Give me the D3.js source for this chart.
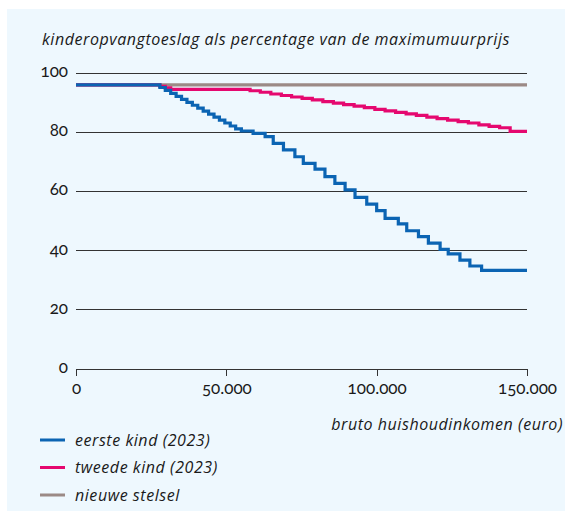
<!DOCTYPE html>
<html lang="nl">
	<head>
		<meta charset="utf-8">
		<title>Kinderopvangtoeslag</title>
		<script type="text/javascript" src="https://cdn.jsdelivr.net/npm/d3@7"></script>
	</head>
	<style>
	body { margin: 0; background: #fff; }
	text { fill: #1a1a1a; }
	.label { font-family: "Open Sans", Lato, sans-serif; font-style: italic; font-size: 16px; letter-spacing: 0.55px; }
	.axis text { font-family: Lato, "Open Sans", sans-serif; font-size: 17px; font-variant-numeric: oldstyle-nums; }
	.axis path, .axis line { fill: none; stroke: #333; shape-rendering: crispEdges; }
	.grid line { stroke: #333; shape-rendering: crispEdges; }
	</style>
	<body>
		<script type="text/javascript">
// bruto huishoudinkomen (euro) waar een nieuwe trede begint, en het percentage
var eersteInkomen = [0, 27900, 29700, 31500, 33300, 35100, 36900, 38700, 40500, 42300, 44100,
	45900, 47700, 49500, 51300, 53100, 55000, 58900, 62900, 65600, 69000, 72800, 75600, 79500,
	82800, 86100, 89500, 92800, 96700, 100000, 102800, 107200, 110000, 113900, 117200, 121100,
	123800, 127700, 131000, 134900, 150000];
var eersteKind = [96, 95.1, 94.1, 93.1, 92.1, 91.1, 90.1, 89.1, 88.1, 87.1, 86.1,
	85.1, 84.1, 83.1, 82.1, 81.1, 80.4, 79.6, 78.5, 76.2, 74.0, 71.7, 69.5, 67.5,
	65.0, 62.7, 60.5, 58.0, 55.7, 53.5, 50.9, 49.0, 46.7, 44.7, 42.5, 40.4,
	38.9, 36.8, 34.8, 33.3, 33.3];

var tweedeInkomen = [0, 27900, 29700, 31500, 57900, 61300, 64800, 68300, 71700, 75200, 78600,
	82100, 85600, 89000, 92500, 95900, 99400, 102800, 106300, 109800, 113200, 116700, 120100,
	123600, 127100, 130500, 134000, 137400, 140900, 144400, 150000];
var tweedeKind = [96, 95.5, 95.0, 94.5, 94.0, 93.5, 92.9, 92.4, 91.9, 91.4, 90.9,
	90.3, 89.8, 89.3, 88.8, 88.3, 87.7, 87.2, 86.7, 86.2, 85.7, 85.1, 84.6,
	84.1, 83.6, 83.1, 82.5, 82.0, 81.5, 80.3, 80.3];

var nieuwInkomen = [0, 150000];
var nieuweStelsel = [96, 96];

var yTicks = [0, 20, 40, 60, 80, 100];
var xTicks = [0, 50000, 100000, 150000];

var reeksen = [
	{naam: "eerste kind (2023)", x: eersteInkomen, y: eersteKind, kleur: "#0b64b3"},
	{naam: "tweede kind (2023)", x: tweedeInkomen, y: tweedeKind, kleur: "#e5086f"},
	{naam: "nieuwe stelsel", x: nieuwInkomen, y: nieuweStelsel, kleur: "#9b8a86"}
];

var svg = d3.select("body").append("svg")
	.attr("width", 565)
	.attr("height", 515);

svg.append("rect")
	.attr("x", 7).attr("y", 9)
	.attr("width", 558).attr("height", 502)
	.style("fill", "#eef8fe");

var x = d3.scaleLinear().domain([0, 150000]).range([76, 527]);
var y = d3.scaleLinear().domain([0, 100]).range([369, 73]);

svg.append("text")
	.attr("class", "label")
	.attr("x", 42).attr("y", 45)
	.text("kinderopvangtoeslag als percentage van de maximumuurprijs");

// rasterlijnen
svg.append("g").attr("class", "grid")
	.selectAll("line")
	.data(yTicks.filter(function(d) { return d > 0; }))
	.enter().append("line")
	.attr("x1", x(0)).attr("x2", x(150000))
	.attr("y1", function(d) { return y(d); })
	.attr("y2", function(d) { return y(d); });

svg.append("g")
	.attr("class", "y axis")
	.attr("transform", "translate(" + x(0) + ",0)")
	.call(d3.axisLeft(y).tickValues(yTicks).tickSize(0).tickPadding(8))
	.call(function(g) { g.select(".domain").remove(); })
	.selectAll("text")
	.attr("dy", "0.2em");

var fmt = function(d) { return d3.format(",")(d).replace(/,/g, "."); };

svg.append("g")
	.attr("class", "x axis")
	.attr("transform", "translate(0," + y(0) + ")")
	.call(d3.axisBottom(x).tickValues(xTicks).tickSize(7).tickSizeOuter(0).tickPadding(6).tickFormat(fmt));

svg.select(".x.axis .domain").style("stroke-width", 1.5);

svg.append("text")
	.attr("class", "label")
	.attr("x", 563).attr("y", 430)
	.attr("text-anchor", "end")
	.text("bruto huishoudinkomen (euro)");

var line = d3.line()
	.curve(d3.curveStepAfter)
	.x(function(d) { return x(d[0]); })
	.y(function(d) { return y(d[1]); });

// grijze lijn onderop, dan roze, dan blauw
reeksen.slice().reverse().forEach(function(r) {
	svg.append("path")
		.datum(d3.zip(r.x, r.y))
		.attr("d", line)
		.style("fill", "none")
		.style("stroke", r.kleur)
		.style("stroke-width", 3.2);
});

var legenda = svg.append("g")
	.selectAll("g")
	.data(reeksen)
	.enter().append("g")
	.attr("transform", function(d, i) { return "translate(40," + (440 + i * 27.5) + ")"; });

legenda.append("line")
	.attr("x1", 0).attr("x2", 25)
	.style("stroke", function(d) { return d.kleur; })
	.style("stroke-width", 3);

legenda.append("text")
	.attr("class", "label")
	.attr("x", 35).attr("dy", "0.35em")
	.text(function(d) { return d.naam; });
		</script>
	</body>
</html>
